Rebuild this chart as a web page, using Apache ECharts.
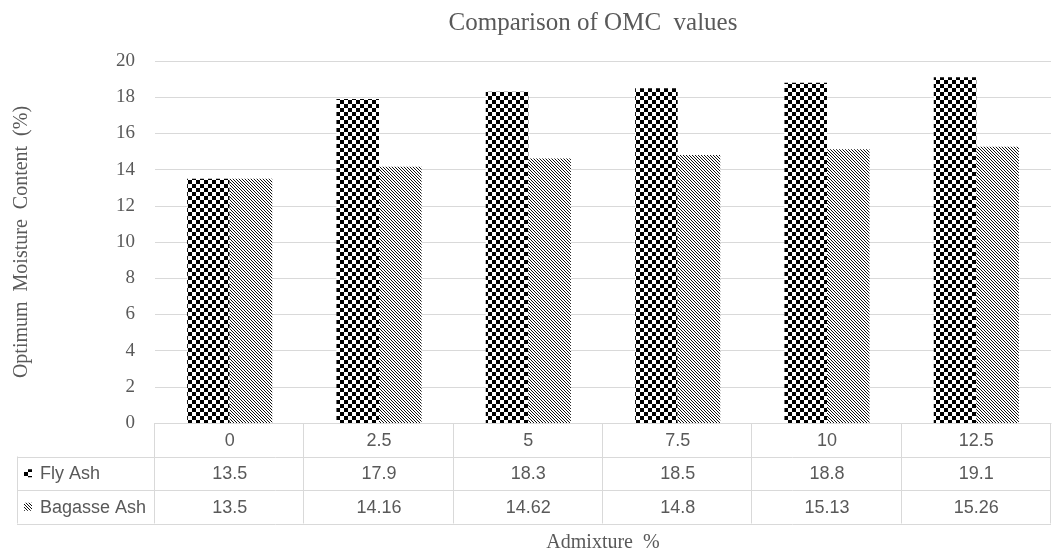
<!DOCTYPE html>
<html><head><meta charset="utf-8">
<script src="https://cdn.jsdelivr.net/npm/echarts@6/dist/echarts.min.js"></script>
<style>html,body{margin:0;padding:0;background:#fff}#c{width:1052px;height:557px}</style>
</head><body><div id="c"></div>
<script>
var categories = ['0', '2.5', '5', '7.5', '10', '12.5'];
var flyAsh = [13.5, 17.9, 18.3, 18.5, 18.8, 19.1];
var bagasseAsh = [13.5, 14.16, 14.62, 14.8, 15.13, 15.26];
var seriesNames = ['Fly Ash', 'Bagasse Ash'];

function checkerCanvas() {
  var c = document.createElement('canvas'); c.width = 8; c.height = 8;
  var g = c.getContext('2d');
  g.fillStyle = '#fff'; g.fillRect(0, 0, 8, 8);
  g.fillStyle = '#000';
  g.fillRect(0, 0, 4, 4); g.fillRect(4, 4, 4, 4);
  return c;
}
function diagCanvas() {
  var c = document.createElement('canvas'); c.width = 3; c.height = 3;
  var g = c.getContext('2d');
  g.fillStyle = '#fff'; g.fillRect(0, 0, 3, 3);
  g.fillStyle = '#111';
  for (var i = 0; i < 3; i++) g.fillRect(i, i, 1, 1);
  return c;
}
var patChecker = { image: checkerCanvas(), repeat: 'repeat' };
var patDiag = { image: diagCanvas(), repeat: 'repeat' };
var patterns = [patChecker, patDiag];

var chart = echarts.init(document.getElementById('c'), null, { renderer: 'canvas' });
var textColor = '#595959';
var option = {
  animation: false,
  backgroundColor: '#fff',
  title: {
    text: 'Comparison of OMC  values', left: 588, top: 6, textAlign: 'center',
    textStyle: { fontFamily: 'Liberation Serif', fontSize: 25, fontWeight: 'normal', color: textColor }
  },
  grid: { left: 155, right: 1, top: 61, bottom: 134, outerBoundsMode: 'none', containLabel: false },
  xAxis: {
    type: 'category', data: categories,
    axisLine: { show: true, lineStyle: { color: '#d9d9d9' } },
    axisTick: { show: false }, axisLabel: { show: false },
    name: 'Admixture  %', nameLocation: 'middle', nameGap: 110,
    nameTextStyle: { fontFamily: 'Liberation Serif', fontSize: 20, color: textColor }
  },
  yAxis: {
    type: 'value', min: 0, max: 20, interval: 2,
    axisLine: { show: false }, axisTick: { show: false },
    axisLabel: { fontFamily: 'Liberation Serif', fontSize: 19, color: textColor, margin: 20 },
    splitLine: { lineStyle: { color: '#d9d9d9' } },
    name: 'Optimum  Moisture  Content  (%)', nameLocation: 'middle', nameGap: 123,
    nameTextStyle: { fontFamily: 'Liberation Serif', fontSize: 20, color: textColor }
  },
  series: [
    { name: seriesNames[0], type: 'bar', data: flyAsh, barGap: '0%', barCategoryGap: '43%',
      itemStyle: { color: patChecker } },
    { name: seriesNames[1], type: 'bar', data: bagasseAsh, barGap: '0%', barCategoryGap: '43%',
      itemStyle: { color: patDiag } }
  ]
};
chart.setOption(option);

// data table below the axis
var x0 = chart.convertToPixel({ xAxisIndex: 0 }, 0);
var x1 = chart.convertToPixel({ xAxisIndex: 0 }, 1);
var band = x1 - x0;
var gLeft = x0 - band / 2;
var gRight = gLeft + band * categories.length;
var yAxis0 = chart.convertToPixel({ yAxisIndex: 0 }, 0);
var rowH = 33.5;
var rows = [yAxis0, yAxis0 + rowH, yAxis0 + 2 * rowH, yAxis0 + 3 * rowH];
var labelLeft = 17;
var lineStyle = { stroke: '#d9d9d9', lineWidth: 1 };
var els = [];
for (var k = 1; k <= 3; k++) {
  var yy = Math.round(rows[k]) + 0.5;
  els.push({ type: 'line', shape: { x1: labelLeft, y1: yy, x2: gRight, y2: yy }, style: lineStyle });
}
els.push({ type: 'line', shape: { x1: labelLeft + 0.5, y1: rows[1], x2: labelLeft + 0.5, y2: rows[3] }, style: lineStyle });
for (var i = 0; i <= categories.length; i++) {
  var xx = Math.round(gLeft + i * band) - 0.5;
  els.push({ type: 'line', shape: { x1: xx, y1: rows[0], x2: xx, y2: rows[3] }, style: lineStyle });
}
var tfont = { fontFamily: 'Liberation Sans', fontSize: 18, fill: textColor };
var dataRows = [flyAsh, bagasseAsh];
for (var c = 0; c < categories.length; c++) {
  var cx = gLeft + (c + 0.5) * band;
  els.push({ type: 'text', x: cx, y: (rows[0] + rows[1]) / 2 + 1,
    style: Object.assign({ text: categories[c], align: 'center', verticalAlign: 'middle' }, tfont) });
  for (var r = 0; r < 2; r++) {
    els.push({ type: 'text', x: cx, y: (rows[r + 1] + rows[r + 2]) / 2 + 1,
      style: Object.assign({ text: String(dataRows[r][c]), align: 'center', verticalAlign: 'middle' }, tfont) });
  }
}
for (var r = 0; r < 2; r++) {
  var ym = (rows[r + 1] + rows[r + 2]) / 2;
  els.push({ type: 'rect', shape: { x: 24, y: ym - 4, width: 8, height: 8 }, style: { fill: patterns[r] } });
  els.push({ type: 'text', x: 40, y: ym + 1,
    style: Object.assign({ text: seriesNames[r], align: 'left', verticalAlign: 'middle' }, tfont) });
}
chart.setOption({ graphic: { elements: els } });
</script>
</body></html>
